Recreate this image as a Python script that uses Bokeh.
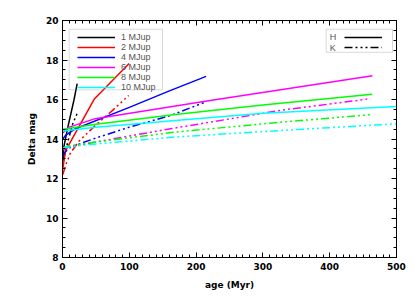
from bokeh.plotting import figure
from bokeh.models import (LinearAxis, SingleIntervalTicker, Legend, LegendItem,
                          BoxAnnotation, Label, Range1d)
from bokeh.embed import file_html
from bokeh.resources import INLINE

# Age (Myr) and Delta mag for each planet mass; H band (solid) and K band (dash-dot)
age_1_H = [1, 2, 8, 17, 22]
mag_1_H = [13.0, 13.6, 14.6, 15.95, 16.8]
age_1_K = [1, 4.5, 14.5, 22]
mag_1_K = [12.9, 13.4, 14.7, 15.3]
age_2_H = [0.5, 4.5, 20, 34, 48, 99.8]
mag_2_H = [12.5, 13.4, 14.35, 15.2, 16.04, 17.82]
age_2_K = [0.5, 5, 12, 25, 49, 75, 99]
mag_2_K = [12.2, 12.7, 13.3, 13.9, 14.68, 15.45, 16.2]
age_4_H = [0.5, 5, 19.5, 100, 161, 215]
mag_4_H = [14.0, 14.2, 14.52, 15.6, 16.45, 17.17]
age_4_K = [0.5, 3, 12, 50, 100, 161.7, 214]
mag_4_K = [13.1, 13.3, 13.59, 14.05, 14.6, 15.19, 15.87]
age_6_H = [0.5, 10, 49, 221, 464]
mag_6_H = [14.3, 14.6, 15.03, 15.95, 17.2]
age_6_K = [0.5, 10, 50, 161.7, 206.6, 326, 461]
mag_6_K = [13.45, 13.6, 13.85, 14.52, 14.77, 15.45, 16.04]
age_8_H = [0.5, 10, 50, 169, 300, 463.6]
mag_8_H = [14.5, 14.55, 14.75, 15.24, 15.72, 16.26]
age_8_K = [0.5, 10, 50, 169, 326, 463.6]
mag_8_K = [13.55, 13.65, 13.85, 14.35, 14.85, 15.24]
age_10_H = [0.5, 50, 169, 300, 500]
mag_10_H = [14.4, 14.6, 14.94, 15.3, 15.65]
age_10_K = [0.5, 10, 50, 169, 326, 500]
mag_10_K = [13.55, 13.6, 13.75, 14.1, 14.43, 14.77]

mass_labels = ["1 MJup", "2 MJup", "4 MJup", "6 MJup", "8 MJup", "10 MJup"]
colors = ["#000000", "#ff0000", "#0000ff", "#ff00ff", "#00ff00", "#00ffff"]
band_labels = ["H", "K"]
x_ticks = [0, 100, 200, 300, 400, 500]
y_ticks = [8, 10, 12, 14, 16, 18, 20]

series_H = [(age_1_H, mag_1_H), (age_2_H, mag_2_H), (age_4_H, mag_4_H),
            (age_6_H, mag_6_H), (age_8_H, mag_8_H), (age_10_H, mag_10_H)]
series_K = [(age_1_K, mag_1_K), (age_2_K, mag_2_K), (age_4_K, mag_4_K),
            (age_6_K, mag_6_K), (age_8_K, mag_8_K), (age_10_K, mag_10_K)]

TICK_FONT = "DejaVu Sans"
LEG_FONT = "Liberation Sans"
DASH = "8 3 2 3 2 3 2 3"

p = figure(width=415, height=297, x_range=Range1d(0, 500), y_range=Range1d(8, 20),
           output_backend="svg", toolbar_location=None,
           min_border_left=62, min_border_right=19, min_border_top=20,
           min_border_bottom=40)
p.xgrid.visible = False
p.ygrid.visible = False
p.outline_line_color = "black"
p.outline_line_width = 1
p.background_fill_color = "white"
p.border_fill_color = "white"

def style_axis(ax):
    ax.major_tick_in = 5
    ax.major_tick_out = 0
    ax.minor_tick_in = 3
    ax.minor_tick_out = 0
    ax.axis_line_color = "black"
    ax.major_tick_line_color = "black"
    ax.minor_tick_line_color = "black"
    ax.major_label_text_font = TICK_FONT
    ax.major_label_text_font_style = "bold"
    ax.major_label_text_color = "black"
    ax.major_label_text_font_size = "9px"

p.xaxis.ticker = SingleIntervalTicker(interval=100, num_minor_ticks=10)
p.yaxis.ticker = SingleIntervalTicker(interval=2, num_minor_ticks=4)
style_axis(p.xaxis[0])
style_axis(p.yaxis[0])
p.xaxis.major_label_standoff = 5
p.yaxis.major_label_standoff = 4
p.xaxis.axis_label = "age (Myr)"
p.yaxis.axis_label = "Delta mag"
for ax in (p.xaxis[0], p.yaxis[0]):
    ax.axis_label_text_font = TICK_FONT
    ax.axis_label_text_font_style = "bold"
    ax.axis_label_text_font_size = "9px"
    ax.axis_label_text_color = "black"
p.xaxis.axis_label_standoff = 7
p.yaxis.axis_label_standoff = 6

top_ax = LinearAxis(ticker=SingleIntervalTicker(interval=100, num_minor_ticks=10),
                    major_label_overrides={v: "" for v in x_ticks})
style_axis(top_ax)
top_ax.major_label_standoff = 0
p.add_layout(top_ax, "above")
right_ax = LinearAxis(ticker=SingleIntervalTicker(interval=2, num_minor_ticks=4),
                      major_label_overrides={v: "" for v in y_ticks})
style_axis(right_ax)
right_ax.major_label_standoff = 0
p.add_layout(right_ax, "right")

rH, rK = [], []
for (ah, mh), (ak, mk), c in zip(series_H, series_K, colors):
    rK.append(p.line(ak, mk, line_color=c, line_width=1.5, line_dash=DASH))
    rH.append(p.line(ah, mh, line_color=c, line_width=1.5))

# legend frames
p.add_layout(BoxAnnotation(left=10.0, right=149.7, top=19.56, bottom=16.49,
                           fill_alpha=0, line_color="#808080", line_width=1))
p.add_layout(BoxAnnotation(left=394.8, right=494.0, top=19.56, bottom=18.39,
                           fill_alpha=0, line_color="#808080", line_width=1))

leg_common = dict(border_line_alpha=0, background_fill_alpha=0, padding=0, margin=0,
                  spacing=0, glyph_width=38, glyph_height=10, label_height=10,
                  label_standoff=6, label_text_font=LEG_FONT,
                  label_text_font_size="9px", label_text_color="#555555")

leg1 = Legend(items=[LegendItem(label=lab, renderers=[r]) for lab, r in zip(mass_labels, rH)],
              location=(15, 165), **leg_common)
p.add_layout(leg1)

leg2 = Legend(items=[LegendItem(label=" ", renderers=[rH[0]]),
                     LegendItem(label=" ", renderers=[rK[0]])],
              location=(282, 205), **leg_common)
p.add_layout(leg2)

for lab, yv in zip(band_labels, [19.14, 18.61]):
    p.add_layout(Label(x=400.1, y=yv, text=lab, text_font=LEG_FONT,
                       text_font_size="9px", text_color="#555555",
                       text_baseline="middle", text_align="left"))

open("out.html", "w").write(file_html(p, INLINE))
